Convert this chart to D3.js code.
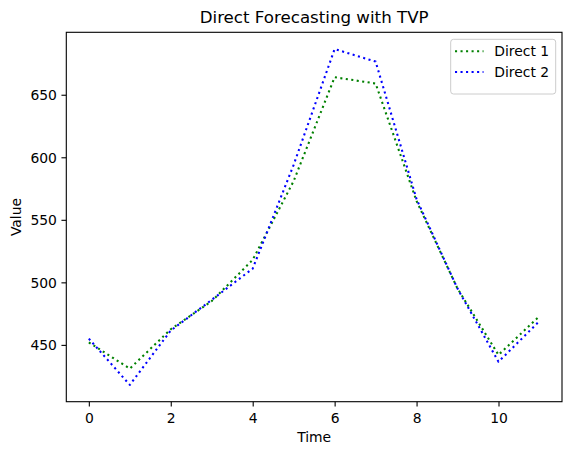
<!DOCTYPE html>
<html>
<head>
<meta charset="utf-8">
<script src="https://cdn.jsdelivr.net/npm/d3@7"></script>
<style>
  html, body { margin: 0; padding: 0; background: #fff; }
  svg { display: block; font-family: "DejaVu Sans", sans-serif; }
</style>
</head>
<body>
<svg id="chart" width="571" height="455"></svg>
<script>
// ---- data ----
const time = [0, 1, 2, 3, 4, 5, 6, 7, 8, 9, 10, 11];
const direct1 = [452, 431, 462.5, 485, 518, 581, 664, 659, 565, 495, 442, 473];
const direct2 = [455, 418, 461.5, 486, 511, 594, 686.5, 676.5, 566.5, 495, 436.5, 469];
const seriesNames = ["Direct 1", "Direct 2"];
const seriesColors = ["green", "blue"];
const xTicks = [0, 2, 4, 6, 8, 10];
const yTicks = [450, 500, 550, 600, 650];
const titleText = "Direct Forecasting with TVP";
const xLabel = "Time";
const yLabel = "Value";

// ---- layout ----
const svg = d3.select("#chart");
const L = 66.3, T = 32.3, R = 562, B = 401.7;

const xMin = d3.min(time), xMax = d3.max(time);
const xPad = (xMax - xMin) * 0.05;
const x = d3.scaleLinear().domain([xMin - xPad, xMax + xPad]).range([L, R]);

const allY = direct1.concat(direct2);
const yMin = d3.min(allY), yMax = d3.max(allY);
const yPad = (yMax - yMin) * 0.05;
const y = d3.scaleLinear().domain([yMin - yPad, yMax + yPad]).range([B, T]);

const fs = 13.9;

// lines
const series = [direct1, direct2];
const line = d3.line().x((d, i) => x(time[i])).y(d => y(d));
const clipId = "clip";
svg.append("clipPath").attr("id", clipId).append("rect")
  .attr("x", L).attr("y", T).attr("width", R - L).attr("height", B - T);
series.forEach((s, k) => {
  svg.append("path")
    .datum(s)
    .attr("d", line)
    .attr("fill", "none")
    .attr("stroke", seriesColors[k])
    .attr("stroke-width", 2.08)
    .attr("stroke-dasharray", "2.08,3.44")
    .attr("stroke-linejoin", "round")
    .attr("clip-path", `url(#${clipId})`);
});

// axes
const xAxis = d3.axisBottom(x).tickValues(xTicks).tickSize(4.86).tickPadding(4.5).tickFormat(d3.format("d"));
const yAxis = d3.axisLeft(y).tickValues(yTicks).tickSize(4.86).tickPadding(4.5).tickFormat(d3.format("d"));

const gx = svg.append("g").attr("transform", `translate(0,${B})`).call(xAxis);
const gy = svg.append("g").attr("transform", `translate(${L},0)`).call(yAxis);
[gx, gy].forEach(g => {
  g.select(".domain").remove();
  g.selectAll(".tick line").attr("stroke", "#000").attr("stroke-width", 1.1);
  g.selectAll(".tick text").attr("fill", "#000").attr("font-size", fs)
    .attr("font-family", "DejaVu Sans, sans-serif");
});
gx.selectAll(".tick text").attr("dy", null).attr("y", 0)
  .attr("transform", "translate(0,21.3)");
gy.selectAll(".tick text").attr("dy", "0.36em");

// frame
svg.append("rect")
  .attr("x", L).attr("y", T).attr("width", R - L).attr("height", B - T)
  .attr("fill", "none").attr("stroke", "#000").attr("stroke-width", 1.1);

// title
svg.append("text")
  .attr("x", (L + R) / 2).attr("y", 23.3)
  .attr("text-anchor", "middle")
  .attr("font-size", 16.67)
  .attr("fill", "#000")
  .text(titleText);

// axis labels
svg.append("text")
  .attr("x", (L + R) / 2).attr("y", 441.7)
  .attr("text-anchor", "middle")
  .attr("font-size", fs)
  .attr("fill", "#000")
  .text(xLabel);
svg.append("text")
  .attr("transform", `translate(20.5,${(T + B) / 2}) rotate(-90)`)
  .attr("text-anchor", "middle")
  .attr("font-size", fs)
  .attr("fill", "#000")
  .text(yLabel);

// legend
const lg = svg.append("g");
lg.append("rect")
  .attr("x", 450.7).attr("y", 39.3).attr("width", 105).attr("height", 54.7)
  .attr("rx", 2.8).attr("ry", 2.8)
  .attr("fill", "#fff").attr("fill-opacity", 0.8)
  .attr("stroke", "#cccccc").attr("stroke-width", 1);
const rowY = [51.3, 72];
seriesNames.forEach((name, k) => {
  lg.append("line")
    .attr("x1", 455).attr("x2", 483.5)
    .attr("y1", rowY[k]).attr("y2", rowY[k])
    .attr("stroke", seriesColors[k])
    .attr("stroke-width", 2.08)
    .attr("stroke-dasharray", "2.08,3.44");
  lg.append("text")
    .attr("x", 494.3).attr("y", rowY[k] + 4.9)
    .attr("font-size", fs)
    .attr("fill", "#000")
    .text(name);
});
</script>
</body>
</html>
